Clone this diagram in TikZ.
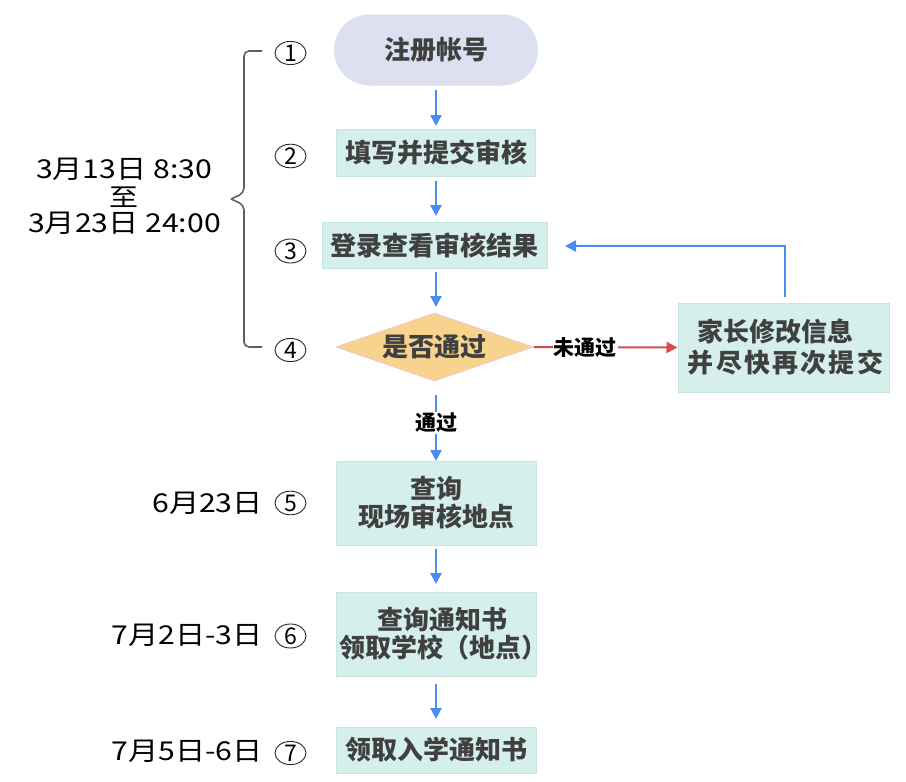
\documentclass[tikz,border=0pt]{standalone}
\usepackage{fontspec}
\setmainfont{Noto Sans CJK SC}
\newfontfamily\cjk{Noto Sans CJK SC}
\newfontfamily\datefont[FakeStretch=1.16]{Noto Sans CJK SC}
\usetikzlibrary{arrows.meta,shapes.geometric}
\definecolor{boxfill}{HTML}{D5F0EC}
\definecolor{boxline}{HTML}{C6E6E2}
\definecolor{startfill}{HTML}{DCE0F0}
\definecolor{diafill}{HTML}{F7D38E}
\definecolor{dialine}{HTML}{F4C8C8}
\definecolor{txt}{HTML}{404040}
\definecolor{blu}{HTML}{4A8CF2}
\definecolor{rd}{HTML}{D94B4B}
\definecolor{brace}{HTML}{606060}
\tikzset{
  stepbox/.style={draw=boxline, line width=1pt, fill=boxfill, text=txt, font=\cjk\bfseries\fontsize{26}{30}\selectfont, align=center, inner sep=0pt},
  flow/.style={draw=blu, line width=2.5pt, -{Triangle[width=11pt,length=11pt]}},
  numlab/.style={ellipse, draw=black!85, line width=0.9pt, minimum width=31pt, minimum height=23pt, inner sep=0pt, font=\cjk\fontsize{23}{23}\selectfont},
  datelab/.style={font=\datefont\fontsize{26}{30}\selectfont, inner sep=0pt},
  edgelab/.style={fill=white, text=black, font=\cjk\bfseries\fontsize{21}{24}\selectfont, inner sep=1pt},
}
\begin{document}
\begin{tikzpicture}[x=1pt,y=-1pt]
\useasboundingbox (0,0) rectangle (906,782);
% nodes
\node[stepbox, draw=none, fill=startfill, rounded corners=35.5pt, minimum width=204pt, minimum height=71pt] (n1) at (436,50) {注册帐号};
\node[stepbox, minimum width=199pt, minimum height=47pt] (n2) at (436,153) {填写并提交审核};
\node[stepbox, minimum width=225pt, minimum height=46pt] (n3) at (434.5,245) {登录查看审核结果};
\node[diamond, draw=dialine, line width=1pt, fill=diafill, minimum width=197pt, minimum height=68pt, inner sep=0pt, aspect=2.9] (n4) at (434.5,347) {};
\node[text=txt, font=\cjk\bfseries\fontsize{26}{30}\selectfont, inner sep=0pt] (n4t) at (n4.center) {是否通过};
\node[stepbox, minimum width=211pt, minimum height=89pt] (nr) at (783.5,347.5) {家长修改信息\hspace*{16pt}\\[1pt]\hspace*{4pt}并\kern2.2pt 尽\kern2.2pt 快\kern2.2pt 再\kern2.2pt 次\kern2.2pt 提\kern2.2pt 交};
\node[stepbox, minimum width=200pt, minimum height=84pt] (n5) at (436,503) {查询\\[-2pt]现场审核地点};
\node[stepbox, minimum width=200pt, minimum height=84pt] (n6) at (436,634) {\hspace*{13pt}查询通知书\\[-2pt]\makebox[198pt][c]{\hspace*{14pt}领取学校（地点）}};
\node[stepbox, minimum width=200pt, minimum height=46pt] (n7) at (436,750) {领取入学通知书};
% arrows
\draw[flow] (436,90) -- (436,126);
\draw[flow] (436,181) -- (436,216);
\draw[flow] (436,272) -- (436,307);
\draw[flow] (436,395) -- (436,461) node[pos=0.42, edgelab] {通过};
\draw[flow] (436,549) -- (436,584);
\draw[flow] (436,684) -- (436,719);
\draw[draw=rd, line width=2pt, -{Triangle[width=11pt,length=11pt]}] (n4.east) -- (nr.west) node[pos=0.36, edgelab] {未通过};
\coordinate (c1) at (785,246);
\draw[flow] (785,297) -- (c1) -- (565,246);
% brace
\draw[brace, line width=1.6pt, rounded corners=5pt] (262,51) -- (244,51) -- (244,193) -- (231,199);
\draw[brace, line width=1.6pt, rounded corners=5pt] (231,199) -- (244,205) -- (244,347) -- (262,347);
% circled numbers
\node[numlab] (c1n) at (290.5,53) {1};
\node[numlab] (c2n) at (290.5,156) {2};
\node[numlab] (c3n) at (290.5,251) {3};
\node[numlab] (c4n) at (290.5,350) {4};
\node[numlab] (c5n) at (290.5,503) {5};
\node[numlab] (c6n) at (290.5,636) {6};
\node[numlab] (c7n) at (290.5,753) {7};
% dates
\node[datelab] (d1a) at (124,169) {3月13日 8:30};
\node[datelab, font=\datefont\fontsize{25}{30}\selectfont] (d1b) at (123.5,197) {至};
\node[datelab] (d1c) at (124.5,223.5) {3月23日 24:00};
\node[datelab, anchor=east] (d5) at (263,503) {6月23日};
\node[datelab, anchor=east] (d6) at (263,635) {7月2日-3日};
\node[datelab, anchor=east] (d7) at (263,751) {7月5日-6日};
\end{tikzpicture}
\end{document}
